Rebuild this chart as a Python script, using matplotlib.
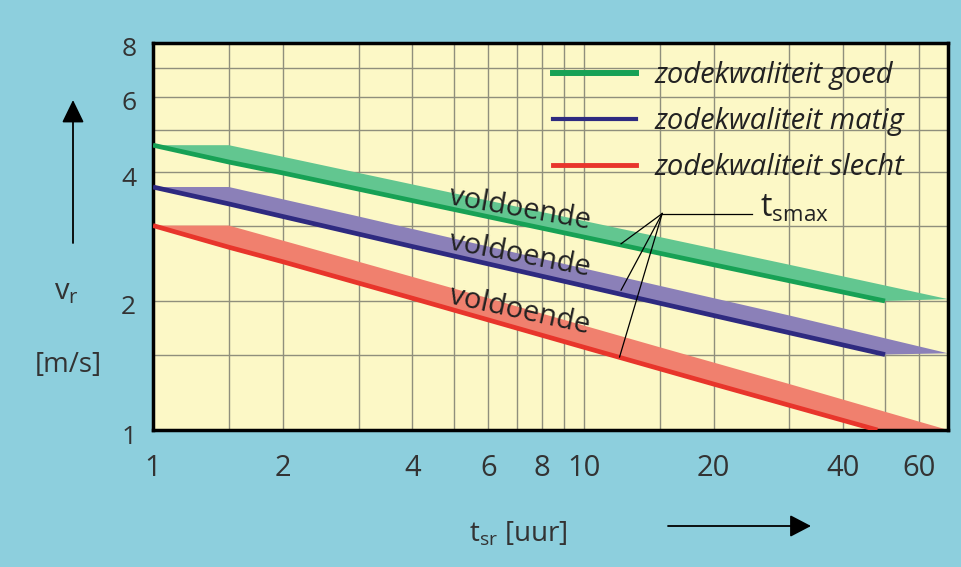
import matplotlib
matplotlib.use("Agg")
import matplotlib.pyplot as plt
from matplotlib.lines import Line2D
from matplotlib.patches import FancyArrowPatch
from matplotlib.transforms import ScaledTranslation
from matplotlib.ticker import FixedLocator, NullFormatter, FixedFormatter

plt.rcParams['font.family'] = ['Open Sans', 'DejaVu Sans']
plt.rcParams['mathtext.fontset'] = 'custom'
plt.rcParams['mathtext.rm'] = 'Open Sans'

# ---- data ----
series_names = ["zodekwaliteit goed", "zodekwaliteit matig", "zodekwaliteit slecht"]

# lower edge (t_smax line) of each band, and upper edge of the band
green_t = [1, 1.5, 2, 4, 10, 20, 50]
green_v = [4.62, 4.22, 3.98, 3.43, 2.82, 2.43, 2.00]
green_up_t = [1, 1.5, 3, 6, 15, 30, 70]
green_up_v = [4.62, 4.62, 3.98, 3.43, 2.82, 2.43, 2.02]

purple_t = [1, 1.5, 2, 4, 10, 20, 50]
purple_v = [3.69, 3.37, 3.15, 2.68, 2.17, 1.85, 1.50]
purple_up_t = [1, 1.5, 3, 6, 15, 30, 70]
purple_up_v = [3.69, 3.69, 3.15, 2.68, 2.17, 1.85, 1.51]

red_t = [1, 1.5, 2, 4, 10, 20, 48]
red_v = [3.00, 2.67, 2.47, 2.03, 1.56, 1.28, 1.00]
red_up_t = [1, 1.5, 3, 6, 15, 30, 70]
red_up_v = [3.00, 3.00, 2.47, 2.03, 1.56, 1.28, 1.00]

x_ticks = [1, 2, 4, 6, 8, 10, 20, 40, 60]
x_minor = [1.5, 3, 5, 7, 9, 15, 30, 50]
y_ticks = [1, 2, 4, 6, 8]
y_minor = [1.5, 3, 5, 7]

# "voldoende" label anchors (baseline start) and angles
label_t = [4.85, 4.85, 4.85]
label_v = [3.37, 2.64, 1.98]
label_rot = [-10, -10.8, -12.3]

# t_smax annotation: apex and targets on each line
tsmax_apex = (15.2, 3.2)
tsmax_end_x = 24.5
tsmax_targets_t = [12.2, 12.2, 12.1]
tsmax_targets_v = [2.72, 2.12, 1.48]

line_colors = ["#17a155", "#2e2a80", "#e8352b"]
fill_colors = ["#62c690", "#8b80b8", "#f0806e"]

W, H = 961, 567
fig = plt.figure(figsize=(W / 100, H / 100), dpi=100)
fig.patch.set_facecolor("#8dcfdd")
ax = fig.add_axes([153 / W, 1 - 430 / H, (948 - 153) / W, (430 - 43) / H])
ax.set_facecolor("#fcf8c6")
ax.set_xscale("log")
ax.set_yscale("log")
ax.set_xlim(1, 70)
ax.set_ylim(1, 8)

ax.xaxis.set_major_locator(FixedLocator(x_ticks))
ax.xaxis.set_major_formatter(FixedFormatter([str(v) for v in x_ticks]))
ax.xaxis.set_minor_locator(FixedLocator(x_minor))
ax.xaxis.set_minor_formatter(NullFormatter())
ax.yaxis.set_major_locator(FixedLocator(y_ticks))
ax.yaxis.set_major_formatter(FixedFormatter([str(v) for v in y_ticks]))
ax.yaxis.set_minor_locator(FixedLocator(y_minor))
ax.yaxis.set_minor_formatter(NullFormatter())
ax.tick_params(which="both", length=0, labelcolor="#333333")
ax.tick_params(axis="x", pad=17, labelsize=21)
ax.tick_params(axis="y", pad=12, labelsize=19)
off = ScaledTranslation(0, -4 / 100, fig.dpi_scale_trans)
for lab in ax.get_yticklabels():
    lab.set_transform(lab.get_transform() + off)
ax.grid(True, which="both", color="#8f8f7c", lw=1.0)
ax.set_axisbelow(True)
for s in ax.spines.values():
    s.set_linewidth(2.5)
    s.set_color("black")

bands = [
    (green_t, green_v, green_up_t, green_up_v),
    (purple_t, purple_v, purple_up_t, purple_up_v),
    (red_t, red_v, red_up_t, red_up_v),
]
for (lt, lv, ut, uv), lc, fc in zip(bands, line_colors, fill_colors):
    ax.fill(list(lt) + list(ut[::-1]), list(lv) + list(uv[::-1]),
            color=fc, lw=0, zorder=2)
    ax.plot(lt, lv, color=lc, lw=3.4, solid_capstyle="butt", zorder=3)

# voldoende labels
for tt, vv, rot in zip(label_t, label_v, label_rot):
    ax.text(tt, vv, "voldoende", fontsize=21, rotation=rot, color="#222222",
            ha="left", va="baseline", rotation_mode="anchor", zorder=4)

# t_smax leader lines
ax.plot([tsmax_apex[0], tsmax_end_x], [tsmax_apex[1], tsmax_apex[1]],
        color="black", lw=0.9, zorder=5)
for tt, vv in zip(tsmax_targets_t, tsmax_targets_v):
    ax.plot([tsmax_apex[0], tt], [tsmax_apex[1], vv], color="black", lw=0.9, zorder=5)
ax.text(25.6, 3.3, r"t$_\mathregular{smax}$", fontsize=23, color="#222222",
        ha="left", va="center", zorder=5)

# legend
handles = [Line2D([], [], color=c, lw=w) for c, w in zip(line_colors, [4.3, 3.0, 3.5])]
leg = ax.legend(handles, series_names, loc="upper left",
                bbox_to_anchor=(553 / W, 1 - 61 / H), bbox_transform=fig.transFigure,
                frameon=False, borderpad=0, borderaxespad=0, handlelength=2.85,
                handletextpad=0.62, labelspacing=0.58,
                prop={"style": "italic", "size": 21})
for t in leg.get_texts():
    t.set_color("#222222")

# axis labels and arrows
fig.text(66 / W, 1 - 292 / H, r"v$_\mathregular{r}$", fontsize=21, ha="center",
         va="center", color="#333333")
fig.text(68 / W, 1 - 365 / H, "[m/s]", fontsize=20, ha="center", va="center",
         color="#333333")
fig.text(518 / W, 1 - 534 / H, r"t$_\mathregular{sr}$ [uur]", fontsize=20,
         ha="center", va="center", color="#333333")
fig.patches.append(FancyArrowPatch(
    (73 / W, 1 - 243 / H), (73 / W, 1 - 100 / H), transform=fig.transFigure,
    arrowstyle="-|>,head_length=14,head_width=6.8", mutation_scale=1,
    color="black", lw=1.3, shrinkA=0, shrinkB=0))
fig.patches.append(FancyArrowPatch(
    (668 / W, 1 - 526 / H), (811 / W, 1 - 526 / H), transform=fig.transFigure,
    arrowstyle="-|>,head_length=13,head_width=6.8", mutation_scale=1,
    color="black", lw=1.3, shrinkA=0, shrinkB=0))

fig.savefig("out.png", dpi=100, facecolor=fig.get_facecolor())
